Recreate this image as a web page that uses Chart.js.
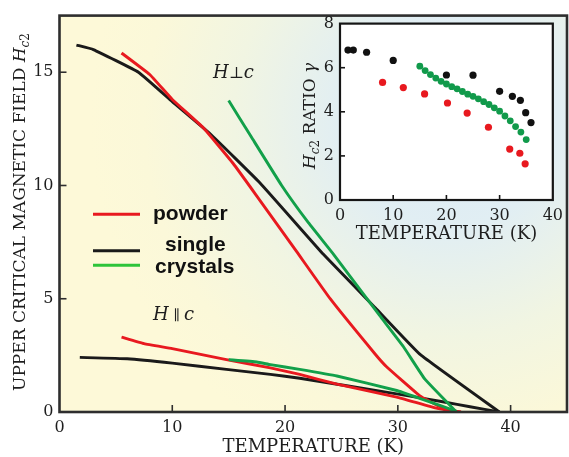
<!DOCTYPE html>
<html>
<head>
<meta charset="utf-8">
<script src="https://cdn.jsdelivr.net/npm/chart.js@4.4.0/dist/chart.umd.min.js"></script>
<style>
  body { margin:0; background:#fff; }
  #wrap { position:relative; width:569px; height:457px; }
  #main { position:absolute; left:0; top:0; }
  #inset { position:absolute; left:290px; top:8px; }
</style>
</head>
<body>
<div id="wrap">
  <canvas id="main" width="569" height="457"></canvas>
  <canvas id="inset" width="279" height="240"></canvas>
</div>
<script>
  // H perpendicular to c
  let tPerpPowder = [5.5, 8, 10, 12.75, 15.4, 17.4, 21, 24, 28, 29, 32, 34.6];
  let hPerpPowder = [15.85, 14.9, 13.8, 12.55, 10.97, 9.6, 7.1, 5.0, 2.55, 2.0, 0.7, 0];
  let tPerpSingle = [1.5, 3, 7, 10, 13.4, 17.8, 23.4, 28, 32, 39];
  let hPerpSingle = [16.2, 16.0, 15.0, 13.7, 12.26, 10.1, 6.96, 4.6, 2.53, 0];
  let tPerpCrystal = [15, 17, 19.7, 22, 24.3, 28.4, 30.5, 32.4, 35.2];
  let hPerpCrystal = [13.75, 12.15, 10.0, 8.4, 6.96, 4.25, 2.88, 1.45, 0];
  // H parallel to c
  let tParaPowder = [5.5, 7.5, 10, 14.8, 18.7, 21.3, 24.6, 29.9, 33.5, 35.6];
  let hParaPowder = [3.31, 3.02, 2.8, 2.31, 1.95, 1.66, 1.23, 0.66, 0.16, 0];
  let tParaSingle = [1.8, 6, 10, 14.8, 18.7, 21.3, 29.9, 34.1, 36.4, 39];
  let hParaSingle = [2.41, 2.35, 2.16, 1.88, 1.66, 1.49, 0.80, 0.44, 0.23, 0];
  let tParaCrystal = [15, 17.5, 18.7, 21.3, 24.6, 29.9, 32, 35.2];
  let hParaCrystal = [2.31, 2.21, 2.09, 1.88, 1.59, 0.95, 0.59, 0.03];

  // inset: anisotropy ratio gamma
  let tGamSingle = [1.5, 2.5, 5, 10, 20, 25, 30, 32.4, 33.9, 34.9, 35.9];
  let gamSingle = [6.8, 6.8, 6.7, 6.33, 5.67, 5.66, 4.93, 4.70, 4.52, 3.96, 3.51];
  let tGamPowder = [8, 11.9, 15.9, 20.2, 23.9, 27.9, 31.9, 33.8, 34.8];
  let gamPowder = [5.33, 5.10, 4.81, 4.40, 3.94, 3.30, 2.31, 2.12, 1.64];
  let tGamCrystal = [15, 16, 17, 18, 19, 20, 21, 22, 23, 24, 25, 26, 27, 28, 29, 30, 31, 32, 33, 34, 35];
  let gamCrystal = [6.07, 5.87, 5.69, 5.53, 5.38, 5.26, 5.14, 5.04, 4.92, 4.80, 4.70, 4.59, 4.46, 4.33, 4.18, 4.03, 3.81, 3.59, 3.33, 3.08, 2.74];

  let mainTicksX = [0, 10, 20, 30, 40];
  let mainTicksY = [0, 5, 10, 15];
  let insetTicksX = [0, 10, 20, 30, 40];
  let insetTicksY = [0, 2, 4, 6, 8];

  const RED = '#e8191f', BLACK = '#1a1a1a', GREEN = '#12a04a';
  const SERIF = 'DejaVu Serif';

  function pts(xs, ys) {
    return xs.map((x, i) => ({x: x, y: ys[i]}));
  }

  function richText(ctx, parts, x, y, rotate, align) {
    ctx.save();
    ctx.translate(x, y);
    if (rotate) ctx.rotate(-Math.PI / 2);
    let total = 0;
    parts.forEach(p => { ctx.font = p.font; p.w = ctx.measureText(p.t).width; total += p.w; });
    let cx = align == 'left' ? 0 : -total / 2;
    ctx.textBaseline = 'alphabetic';
    ctx.textAlign = 'left';
    parts.forEach(p => { ctx.font = p.font; ctx.fillText(p.t, cx, p.dy || 0); cx += p.w; });
    ctx.restore();
  }

  function frameAndTicks(chart, color, width, len) {
    let ctx = chart.ctx, a = chart.chartArea;
    ctx.save();
    ctx.strokeStyle = color;
    ctx.lineWidth = width;
    ctx.strokeRect(a.left, a.top, a.right - a.left, a.bottom - a.top);
    ctx.lineWidth = 1.6;
    let xs = chart.scales.x, ys = chart.scales.y;
    xs.ticks.forEach(t => {
      let px = xs.getPixelForValue(t.value);
      if (px > a.left + 2 && px < a.right - 2) {
        ctx.beginPath(); ctx.moveTo(px, a.bottom); ctx.lineTo(px, a.bottom - len); ctx.stroke();
      }
    });
    ys.ticks.forEach(t => {
      let py = ys.getPixelForValue(t.value);
      if (py > a.top + 2 && py < a.bottom - 2) {
        ctx.beginPath(); ctx.moveTo(a.left, py); ctx.lineTo(a.left + len, py); ctx.stroke();
      }
    });
    ctx.restore();
  }

  function keepTicks(list) {
    return function(scale) {
      scale.ticks = list.map(v => ({value: v}));
    };
  }

  function axisOpts(min, max, list, fit) {
    return {
      type: 'linear', min: min, max: max,
      afterBuildTicks: keepTicks(list),
      afterFit: fit,
      grid: {display: false, drawTicks: false},
      border: {display: false},
      ticks: {font: {family: SERIF, size: 16}, color: '#1e1e1e', padding: 6}
    };
  }

  let mainDecor = {
    id: 'mainDecor',
    beforeDraw(chart) {
      let ctx = chart.ctx, a = chart.chartArea;
      let g = ctx.createRadialGradient(450, 120, 0, 450, 120, 360);
      g.addColorStop(0, '#dbeaf5');
      g.addColorStop(0.3, '#e1eef3');
      g.addColorStop(0.6, '#f1f5e2');
      g.addColorStop(0.85, '#fbf8d9');
      g.addColorStop(1, '#fdf9d8');
      ctx.save();
      ctx.fillStyle = g;
      ctx.fillRect(a.left, a.top, a.right - a.left, a.bottom - a.top);
      ctx.restore();
    },
    afterDraw(chart) {
      let ctx = chart.ctx, a = chart.chartArea;
      frameAndTicks(chart, '#2e2e2e', 2.6, 7);
      ctx.fillStyle = '#1e1e1e';
      richText(ctx, [{t: 'TEMPERATURE (K)', font: '18px ' + SERIF}], (a.left + a.right) / 2, 452, false);
      richText(ctx, [
        {t: 'UPPER CRITICAL MAGNETIC FIELD ', font: '17px ' + SERIF},
        {t: 'H', font: 'italic 17px ' + SERIF},
        {t: 'c', font: 'italic 12px ' + SERIF, dy: 4},
        {t: '2', font: '12px ' + SERIF, dy: 4}
      ], 25, 212, true);
      richText(ctx, [
        {t: 'H', font: 'italic 18px ' + SERIF},
        {t: '\u22A5', font: '16px ' + SERIF},
        {t: 'c', font: 'italic 18px ' + SERIF}
      ], 213, 78, false, 'left');
      richText(ctx, [
        {t: 'H', font: 'italic 18px ' + SERIF},
        {t: ' \u2225 ', font: '14px ' + SERIF},
        {t: 'c', font: 'italic 18px ' + SERIF}
      ], 153, 320, false, 'left');
      // legend
      ctx.save();
      ctx.lineWidth = 3;
      [[RED, 214.3], [BLACK, 250.7], ['#2ec43a', 265.3]].forEach(l => {
        ctx.strokeStyle = l[0];
        ctx.beginPath(); ctx.moveTo(93, l[1]); ctx.lineTo(140, l[1]); ctx.stroke();
      });
      ctx.fillStyle = '#111';
      ctx.font = 'bold 21px "Liberation Sans"';
      ctx.textAlign = 'left';
      ctx.textBaseline = 'alphabetic';
      ctx.fillText('powder', 153, 220);
      ctx.fillText('single', 165, 251);
      ctx.fillText('crystals', 155, 273);
      ctx.restore();
    }
  };

  function line(xs, ys, color, order) {
    return {data: pts(xs, ys), showLine: true, borderColor: color, borderWidth: 2.9,
            pointRadius: 0, order: order, tension: 0.1};
  }

  new Chart(document.getElementById('main'), {
    type: 'scatter',
    data: {
      datasets: [
        line(tPerpCrystal, hPerpCrystal, GREEN, 0),
        line(tParaCrystal, hParaCrystal, GREEN, 0),
        line(tPerpPowder, hPerpPowder, RED, 1),
        line(tParaPowder, hParaPowder, RED, 1),
        line(tPerpSingle, hPerpSingle, BLACK, 2),
        line(tParaSingle, hParaSingle, BLACK, 2)
      ]
    },
    options: {
      responsive: false, animation: false, devicePixelRatio: 1,
      layout: {padding: {top: 5, right: 2, left: 0, bottom: 0}},
      plugins: {legend: {display: false}, tooltip: {enabled: false}},
      scales: {
        x: axisOpts(0, 45, mainTicksX, s => { s.height = 45; }),
        y: axisOpts(0, 17.5, mainTicksY, s => { s.width = 59.5; })
      }
    },
    plugins: [mainDecor]
  });

  let insetDecor = {
    id: 'insetDecor',
    beforeDraw(chart) {
      let ctx = chart.ctx, a = chart.chartArea;
      ctx.save();
      ctx.fillStyle = '#fff';
      ctx.fillRect(a.left, a.top, a.right - a.left, a.bottom - a.top);
      ctx.restore();
    },
    afterDraw(chart) {
      let ctx = chart.ctx, a = chart.chartArea;
      frameAndTicks(chart, '#151515', 2.2, 5);
      ctx.fillStyle = '#1e1e1e';
      richText(ctx, [{t: 'TEMPERATURE (K)', font: '18px ' + SERIF}], (a.left + a.right) / 2, 231, false);
      richText(ctx, [
        {t: 'H', font: 'italic 17px ' + SERIF},
        {t: 'c', font: 'italic 12px ' + SERIF, dy: 4},
        {t: '2', font: '12px ' + SERIF, dy: 4},
        {t: ' RATIO ', font: '17px ' + SERIF},
        {t: '\u03B3', font: 'italic 17px ' + SERIF}
      ], 25, 108, true);
    }
  };

  function dots(xs, ys, color, r) {
    return {data: pts(xs, ys), backgroundColor: color, borderWidth: 0, pointRadius: r};
  }

  new Chart(document.getElementById('inset'), {
    type: 'scatter',
    data: {
      datasets: [
        dots(tGamCrystal, gamCrystal, '#119a4b', 3.4),
        dots(tGamPowder, gamPowder, RED, 3.6),
        dots(tGamSingle, gamSingle, '#111', 3.6)
      ]
    },
    options: {
      responsive: false, animation: false, devicePixelRatio: 1,
      layout: {padding: {top: 11, right: 15, left: 0, bottom: 0}},
      plugins: {legend: {display: false}, tooltip: {enabled: false}},
      scales: {
        x: axisOpts(0, 40, insetTicksX, s => { s.height = 48; }),
        y: axisOpts(0, 8, insetTicksY, s => { s.width = 50; })
      }
    },
    plugins: [insetDecor]
  });
</script>
</body>
</html>
